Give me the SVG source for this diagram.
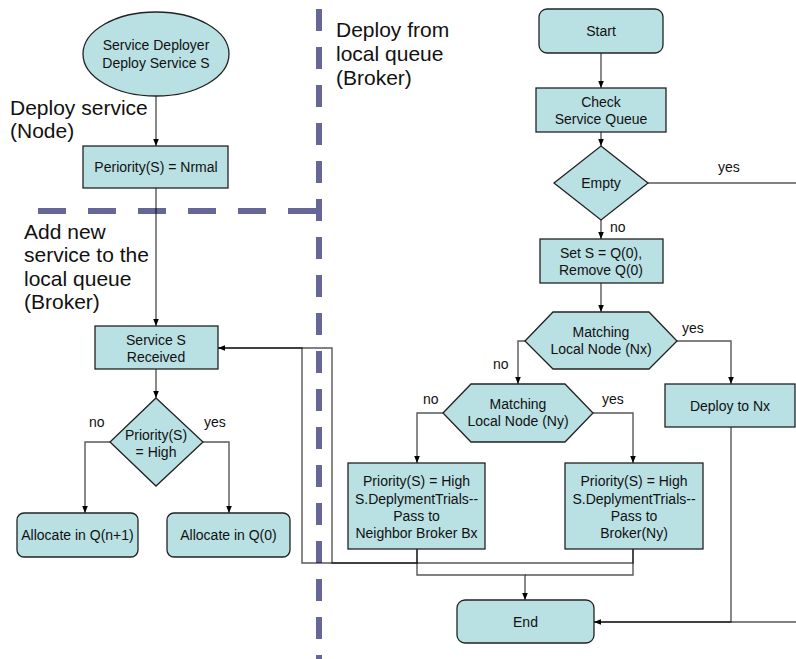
<svg xmlns="http://www.w3.org/2000/svg" width="796" height="659" viewBox="0 0 796 659">
  <style>
    .shape { fill: #B9E0E3; stroke: #222; stroke-width: 1.3; }
    .t { font-family: "Liberation Sans", Arial, sans-serif; font-size: 14px; fill: #111; text-anchor: middle; }
    .lbl { font-family: "Liberation Sans", Arial, sans-serif; font-size: 14px; fill: #111; }
    .big { font-family: "Liberation Sans", Arial, sans-serif; font-size: 21px; fill: #111; }
    .wire { fill: none; stroke: #000; stroke-opacity: 0.66; stroke-width: 1.4; }
    .lane { fill: none; stroke: #666699; stroke-width: 6; }
  </style>
  <defs>
    <marker id="arrow" viewBox="0 0 10 10" refX="10" refY="5" markerWidth="7" markerHeight="7" markerUnits="userSpaceOnUse" orient="auto">
      <path d="M0,1 L10,5 L0,9 z" fill="#000"/>
    </marker>
  </defs>
  <rect width="796" height="659" fill="#fff"/>

  <!-- swimlane separators -->
  <g id="lanes">
    <line class="lane" x1="319" y1="9" x2="319" y2="680" stroke-dasharray="22 16"/>
    <line class="lane" x1="38" y1="211" x2="322" y2="211" stroke-dasharray="28 22"/>
  </g>

  <!-- lane titles -->
  <g id="lane-titles">
    <text class="big" x="10" y="115">Deploy service</text>
    <text class="big" x="10" y="138">(Node)</text>
    <text class="big" x="24" y="239">Add new</text>
    <text class="big" x="24" y="262">service to the</text>
    <text class="big" x="24" y="286">local queue</text>
    <text class="big" x="24" y="309">(Broker)</text>
    <text class="big" x="336" y="37">Deploy from</text>
    <text class="big" x="336" y="61">local queue</text>
    <text class="big" x="336" y="85">(Broker)</text>
  </g>

  <!-- connectors -->
  <g id="connectors">
    <path class="wire" d="M156,96 V146" marker-end="url(#arrow)"/>
    <path class="wire" d="M156,188 V326" marker-end="url(#arrow)"/>
    <path class="wire" d="M156,369 V398" marker-end="url(#arrow)"/>
    <path class="wire" d="M110,442 H85 V513" marker-end="url(#arrow)"/>
    <path class="wire" d="M203,442 H229 V513" marker-end="url(#arrow)"/>
    <path class="wire" d="M601,53 V88" marker-end="url(#arrow)"/>
    <path class="wire" d="M601,132 V146" marker-end="url(#arrow)"/>
    <path class="wire" d="M601,220 V239" marker-end="url(#arrow)"/>
    <path class="wire" d="M601,283 V312" marker-end="url(#arrow)"/>
    <path class="wire" d="M677,341 H731 V384" marker-end="url(#arrow)"/>
    <path class="wire" d="M525,341 H518 V384" marker-end="url(#arrow)"/>
    <path class="wire" d="M443,413 H417 V463" marker-end="url(#arrow)"/>
    <path class="wire" d="M593,413 H633 V463" marker-end="url(#arrow)"/>
    <path class="wire" d="M417,549 V575 H525 V600" marker-end="url(#arrow)"/>
    <path class="wire" d="M633,549 V575 H525"/>
    <path class="wire" d="M417,549 V563 H302 V348 H218" marker-end="url(#arrow)"/>
    <path class="wire" d="M633,549 V563 H332 V348 H218"/>
    <path class="wire" d="M648,183 H800 V622 H594" marker-end="url(#arrow)"/>
    <path class="wire" d="M731,427 V622 H594"/>
    <text class="lbl" x="718" y="172">yes</text>
    <text class="lbl" x="610" y="232">no</text>
    <text class="lbl" x="682" y="333">yes</text>
    <text class="lbl" x="493" y="369">no</text>
    <text class="lbl" x="423" y="404">no</text>
    <text class="lbl" x="602" y="404">yes</text>
    <text class="lbl" x="89" y="427">no</text>
    <text class="lbl" x="204" y="427">yes</text>
  </g>

  <!-- left lanes: node side and queue side -->
  <g id="deployer">
    <ellipse class="shape" cx="156" cy="54" rx="73" ry="42"/>
    <text class="t" x="156" y="50">Service Deployer</text>
    <text class="t" x="156" y="68">Deploy Service S</text>
  </g>
  <g id="priority-normal">
    <rect class="shape" x="83" y="146" width="145" height="42"/>
    <text class="t" x="156" y="172">Periority(S) = Nrmal</text>
  </g>
  <g id="received">
    <rect class="shape" x="95" y="326" width="123" height="43"/>
    <text class="t" x="156" y="345">Service S</text>
    <text class="t" x="156" y="362">Received</text>
  </g>
  <g id="priority-high">
    <polygon class="shape" points="156,398 203,442 156,486 110,442"/>
    <text class="t" x="156" y="440">Priority(S)</text>
    <text class="t" x="156" y="457">= High</text>
  </g>
  <g id="alloc-n1">
    <rect class="shape" x="17" y="513" width="121" height="44" rx="7"/>
    <text class="t" x="77.5" y="540">Allocate in Q(n+1)</text>
  </g>
  <g id="alloc-0">
    <rect class="shape" x="167" y="513" width="123" height="44" rx="7"/>
    <text class="t" x="228.5" y="540">Allocate in Q(0)</text>
  </g>

  <!-- right lane: broker queue processing -->
  <g id="start">
    <rect class="shape" x="539" y="9" width="124" height="44" rx="8"/>
    <text class="t" x="601" y="36">Start</text>
  </g>
  <g id="check-queue">
    <rect class="shape" x="536" y="88" width="130" height="44"/>
    <text class="t" x="601" y="107">Check</text>
    <text class="t" x="601" y="124">Service Queue</text>
  </g>
  <g id="empty">
    <polygon class="shape" points="601,146 648,183 601,220 554,183"/>
    <text class="t" x="601" y="188">Empty</text>
  </g>
  <g id="take-head">
    <rect class="shape" x="540" y="239" width="123" height="44"/>
    <text class="t" x="601" y="258">Set S = Q(0),</text>
    <text class="t" x="601" y="275">Remove Q(0)</text>
  </g>
  <g id="match-nx">
    <polygon class="shape" points="525,341 553,312 649,312 677,341 649,369 553,369"/>
    <text class="t" x="601" y="337">Matching</text>
    <text class="t" x="601" y="354">Local Node (Nx)</text>
  </g>
  <g id="deploy-nx">
    <rect class="shape" x="665" y="384" width="130" height="43"/>
    <text class="t" x="730" y="411">Deploy to Nx</text>
  </g>
  <g id="match-ny">
    <polygon class="shape" points="443,413 471,384 565,384 593,413 565,442 471,442"/>
    <text class="t" x="518" y="409">Matching</text>
    <text class="t" x="518" y="426">Local Node (Ny)</text>
  </g>
  <g id="pass-bx">
    <rect class="shape" x="348" y="463" width="137" height="86"/>
    <text class="t" x="416.5" y="486">Priority(S) = High</text>
    <text class="t" x="416.5" y="504">S.DeplymentTrials--</text>
    <text class="t" x="416.5" y="521">Pass to</text>
    <text class="t" x="416.5" y="538">Neighbor Broker Bx</text>
  </g>
  <g id="pass-ny">
    <rect class="shape" x="565" y="463" width="138" height="86"/>
    <text class="t" x="634" y="486">Priority(S) = High</text>
    <text class="t" x="634" y="504">S.DeplymentTrials--</text>
    <text class="t" x="634" y="521">Pass to</text>
    <text class="t" x="634" y="538">Broker(Ny)</text>
  </g>
  <g id="end">
    <rect class="shape" x="457" y="600" width="137" height="43" rx="8"/>
    <text class="t" x="525.5" y="627">End</text>
  </g>
</svg>
